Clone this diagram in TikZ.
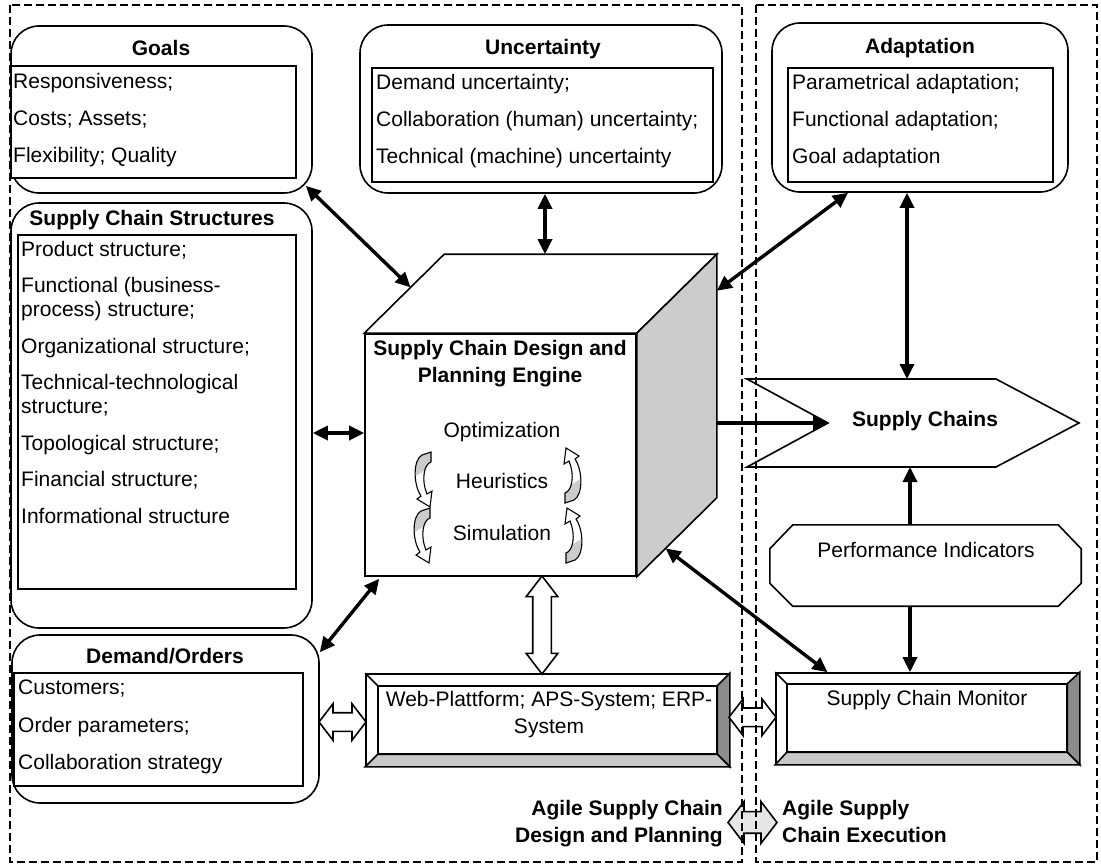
\documentclass[tikz,border=0pt]{standalone}
\usepackage{fontspec}
\setmainfont{Liberation Sans}
\usetikzlibrary{arrows.meta,shapes.arrows,calc}

\definecolor{facegray}{HTML}{CCCCCC}
\definecolor{bevdark}{HTML}{8C8C8C}
\definecolor{bevlight}{HTML}{C8C8C8}
\definecolor{tagarrow}{HTML}{E6E6E6}

\newcommand{\ribbonpath}{(17,2) -- (17,12) .. controls (10,14) and (7,30) .. (13,44) -- (18,41) -- (16,57) -- (3,49) -- (7,46) .. controls (-1,34) and (-1,10) .. (8,5) -- cycle}

\begin{document}
\begin{tikzpicture}[x=1pt,y=-1pt,
    font=\fontsize{21}{24}\selectfont,
    every node/.style={inner sep=0pt},
    rbox/.style={draw,line width=1.6pt,rounded corners=28pt,fill=white},
    ibox/.style={draw,line width=1.6pt,fill=white},
    txt/.style={align=left,anchor=north west},
    ttl/.style={font=\fontsize{21}{24}\selectfont\bfseries,anchor=base},
    link/.style={line width=3.4pt,{Triangle[length=15pt,width=14pt]}-{Triangle[length=15pt,width=14pt]}},
    flow/.style={line width=3.4pt,-{Triangle[length=15pt,width=14pt]}},
    hollow/.style={draw,line width=1.6pt,fill=white,double arrow,double arrow tip angle=105,inner xsep=0pt,inner ysep=8.5pt,minimum width=35pt,double arrow head extend=9pt},
    bevel/.style={draw,line width=1.6pt},
    region/.style={draw,line width=2pt,dash pattern=on 8pt off 4pt}]

    \path[fill=white] (0,0) rectangle (1101,867);

    % Goals
    \node[rbox,minimum width=301pt,minimum height=167pt] (goals) at (161.5,109.5) {};
    \node[ibox,minimum width=285pt,minimum height=112pt] (goalsin) at (153.5,122) {};
    \node[ttl] (goalsttl) at (161,55.5) {Goals};
    \node[txt] (goalstxt) at (13,73) {Responsiveness;\\[13pt]Costs; Assets;\\[13pt]Flexibility; Quality};

    % Uncertainty
    \node[rbox,minimum width=362pt,minimum height=168pt] (unc) at (541,109) {};
    \node[ibox,minimum width=341pt,minimum height=114pt] (uncin) at (542.5,125) {};
    \node[ttl] (uncttl) at (543,55) {Uncertainty};
    \node[txt] (unctxt) at (376,74) {Demand uncertainty;\\[13pt]Collaboration (human) uncertainty;\\[13pt]Technical (machine) uncertainty};

    % Adaptation
    \node[rbox,minimum width=296pt,minimum height=169pt] (adapt) at (920,107.5) {};
    \node[ibox,minimum width=265pt,minimum height=114pt] (adaptin) at (920.5,125) {};
    \node[ttl] (adaptttl) at (920,53.5) {Adaptation};
    \node[txt] (adapttxt) at (792,74) {Parametrical adaptation;\\[13pt]Functional adaptation;\\[13pt]Goal adaptation};

    % Supply chain structures
    \node[rbox,minimum width=301pt,minimum height=425pt] (scs) at (161.5,415.5) {};
    \node[ibox,minimum width=278pt,minimum height=354pt] (scsin) at (157,412) {};
    \node[ttl] (scsttl) at (152,225) {Supply Chain Structures};
    \node[txt] (scstxt) at (21,241) {Product structure;\\[12.5pt]Functional (business-\\process) structure;\\[12.5pt]Organizational structure;\\[12.5pt]Technical-technological\\structure;\\[12.5pt]Topological structure;\\[12.5pt]Financial structure;\\[12.5pt]Informational structure};

    % Demand/Orders
    \node[rbox,minimum width=307pt,minimum height=168pt] (demand) at (165.5,719) {};
    \node[ibox,minimum width=289pt,minimum height=113pt] (demandin) at (158.5,729.5) {};
    \node[ttl] (demandttl) at (165,663) {Demand/Orders};
    \node[txt] (demandtxt) at (18,680) {Customers;\\[13.5pt]Order parameters;\\[13.5pt]Collaboration strategy};

    % Engine cube
    \node[draw,line width=1.6pt,fill=white,minimum width=271pt,minimum height=242pt] (engine) at (500.5,455) {};
    \coordinate (ctl) at ($(engine.north west)+(80,-79)$);
    \coordinate (ctr) at ($(engine.north east)+(80,-79)$);
    \coordinate (cbr) at ($(engine.south east)+(80,-79)$);
    \draw[line width=1.6pt,fill=white] (engine.north west) -- (ctl) -- (ctr) -- (engine.north east) -- cycle;
    \draw[line width=1.6pt,fill=facegray] (engine.north east) -- (ctr) -- (cbr) -- (engine.south east) -- cycle;
    \node[ttl,anchor=north,align=center] (enginettl) at (500,340) {Supply Chain Design and\\[3pt]Planning Engine};
    \foreach \t/\y [count=\i] in {Optimization/437,Heuristics/488,Simulation/540}
        \node[anchor=base] (method\i) at (502,\y) {\t};

    % Cycle arrows
    \foreach \x/\y/\r in {414/450/0,413/506/0,582/505/180,583/565/180} {
        \begin{scope}[shift={(\x,\y)},rotate=\r]
            \fill[white] \ribbonpath;
            \begin{scope}
                \clip (-5,-5) -- (25,-5) -- (25,12) -- (-5,30) -- cycle;
                \fill[facegray] \ribbonpath;
            \end{scope}
            \draw[line width=1.1pt] \ribbonpath;
        \end{scope}
    }

    % Supply chains
    \draw[line width=1.6pt,fill=white] (747,379) -- (996,379) -- (1079,423) -- (996,467) -- (747,467) -- (828,423) -- cycle;
    \node[ttl] (sc) at (925,426.7) {Supply Chains};
    \coordinate (scnotch) at (828,423);
    \coordinate (sctop) at (907,379);
    \coordinate (scbot) at (910,467);

    % Performance indicators
    \node[minimum width=311pt,minimum height=81pt] (pi) at (925.5,565.5) {};
    \draw[line width=1.6pt,fill=white] ([xshift=23pt]pi.north west) -- ([xshift=-23pt]pi.north east) -- ([yshift=-24pt]pi.north east)
        -- ([yshift=23pt]pi.south east) -- ([xshift=-23pt]pi.south east) -- ([xshift=23pt]pi.south west)
        -- ([yshift=23pt]pi.south west) -- ([yshift=-24pt]pi.north west) -- cycle;
    \node[anchor=base] (pitxt) at (926,557) {Performance Indicators};

    % Web platform and monitor
    \node[bevel,fill=white,minimum width=363pt,minimum height=92pt] (web) at (547.5,720) {};
    \node[minimum width=339pt,minimum height=68pt] (web-in) at (547.5,720) {};
    \node[bevel,fill=white,minimum width=303pt,minimum height=91pt] (mon) at (927.5,718.5) {};
    \node[minimum width=280pt,minimum height=68pt] (mon-in) at (927,718) {};
    \foreach \b in {web,mon} {
        \filldraw[bevel,fill=bevdark] (\b.north east) -- (\b-in.north east) -- (\b-in.south east) -- (\b.south east) -- cycle;
        \filldraw[bevel,fill=bevlight] (\b.south west) -- (\b-in.south west) -- (\b-in.south east) -- (\b.south east) -- cycle;
        \draw[bevel] (\b-in.north west) rectangle (\b-in.south east);
        \draw[bevel] (\b.north west) -- (\b-in.north west);
    }
    \node[anchor=north,align=center] (webtxt) at (549,691) {Web-Plattform; APS-System; ERP-\\[3pt]System};
    \node[anchor=base] (montxt) at (927,705) {Supply Chain Monitor};

    % Bottom tags
    \node[ttl,anchor=north east,align=right] (plan) at (723,800) {Agile Supply Chain\\[3pt]Design and Planning};
    \node[ttl,anchor=north west,align=left] (exec) at (782,800) {Agile Supply\\[3pt]Chain Execution};

    % Arrows
    \coordinate (scsin) at ([yshift=22pt]engine.west);
    \draw[link] ([shift={(-7,-8)}]goals.south east) -- ($(engine.north west)!0.58!(ctl)$);
    \draw[link] ([xshift=4pt]unc.south) -- ([xshift=4pt]unc.south |- ctl);
    \draw[link] ([xshift=-72pt]adapt.south) -- ($(ctr)!0.15!(cbr)$);
    \draw[link] ([xshift=-13pt]adapt.south) -- (sctop);
    \draw[link] (scsin -| scs.east) -- (scsin);
    \draw[flow] (scnotch -| ctr) -- (scnotch);
    \draw[flow] (pi.north -| scbot) -- (scbot);
    \draw[flow] (pi.south -| scbot) -- (mon.north -| scbot);
    \draw[link] ($(engine.south east)!0.36!(cbr)$) -- ([xshift=-100pt]mon.north);
    \draw[link] ([yshift=-18pt]demand.north east) -- ([xshift=15pt,yshift=-2pt]engine.south west);

    % Hollow arrows
    \node[hollow,rotate=90,minimum height=98pt,minimum width=30pt,double arrow head extend=6.5pt,double arrow tip angle=75] (enginelink)
        at ([xshift=-5.5pt]$(engine.south -| web.north)!0.5!(web.north)$) {};
    \node[hollow,minimum height=47pt] (demandlink) at ([yshift=-2.5pt]$(demand.east)!0.5!(web.west)$) {};
    \node[hollow,minimum height=47pt] (monlink) at ([yshift=2pt]$(web.east)!0.5!(mon.west)$) {};
    \node[hollow,fill=tagarrow,minimum height=49pt,minimum width=40pt,inner ysep=10pt,double arrow head extend=10pt] (taglink) at ($(plan.east)!0.5!(exec.west)$) {};

    % Regions
    \draw[region] (10,5) rectangle (742,862);
    \draw[region] (756,5) rectangle (1097,862);
\end{tikzpicture}
\end{document}
